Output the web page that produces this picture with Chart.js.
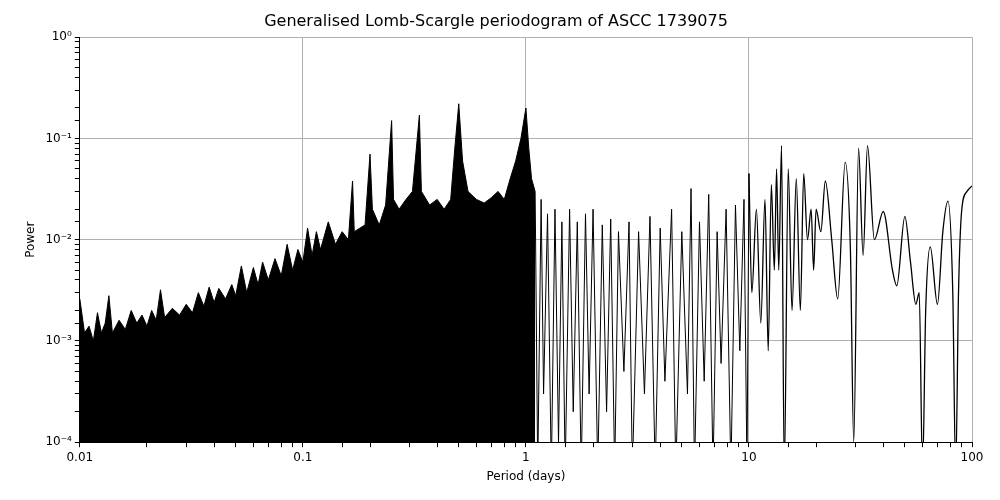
<!DOCTYPE html>
<html>
<head>
<meta charset="utf-8">
<script src="https://cdn.jsdelivr.net/npm/chart.js@4/dist/chart.umd.min.js"></script>
<style>
  body { margin: 0; background: #fff; }
  #wrap { width: 1000px; height: 500px; }
</style>
</head>
<body>
<div id="wrap"><canvas id="c"></canvas></div>
<script>
// dense short-period part (upper envelope, filled)
const densePeriod = [0.01,0.0105,0.011,0.0115,0.012,0.0125,0.013,0.0135,0.014,0.015,0.016,0.017,0.018,0.019,0.02,0.021,0.022,0.023,0.024,0.026,0.028,0.03,0.032,0.034,0.036,0.038,0.04,0.042,0.045,0.048,0.05,0.053,0.056,0.06,0.063,0.066,0.07,0.075,0.08,0.085,0.09,0.095,0.1,0.105,0.11,0.115,0.12,0.13,0.14,0.15,0.16,0.167,0.17,0.18,0.19,0.2,0.205,0.22,0.235,0.25,0.255,0.27,0.29,0.31,0.333,0.34,0.37,0.4,0.43,0.46,0.48,0.5,0.52,0.55,0.6,0.65,0.7,0.75,0.8,0.85,0.9,0.95,1.0,1.03,1.06,1.1];
const densePower = [2.6e-3,1.2e-3,1.4e-3,1e-3,1.9e-3,1.2e-3,1.5e-3,2.8e-3,1.2e-3,1.6e-3,1.3e-3,2e-3,1.5e-3,1.8e-3,1.4e-3,2e-3,1.6e-3,3.2e-3,1.7e-3,2.1e-3,1.8e-3,2.3e-3,1.9e-3,3e-3,2.2e-3,3.4e-3,2.4e-3,3.3e-3,2.6e-3,3.6e-3,2.8e-3,5.5e-3,3e-3,5.3e-3,3.6e-3,6e-3,4e-3,6.5e-3,4.4e-3,9e-3,5e-3,8e-3,6e-3,1.3e-2,7e-3,1.2e-2,8e-3,1.5e-2,9e-3,1.2e-2,1e-2,3.8e-2,1.2e-2,1.3e-2,1.4e-2,7e-2,2e-2,1.4e-2,2.2e-2,1.5e-1,2.5e-2,2e-2,2.5e-2,3e-2,1.7e-1,3e-2,2.2e-2,2.5e-2,2e-2,2.5e-2,8e-2,2.2e-1,6e-2,3e-2,2.5e-2,2.3e-2,2.6e-2,3e-2,2.5e-2,4e-2,6e-2,1e-1,2e-1,8e-2,4e-2,3e-2];

// intermediate part, oscillating down to the floor
const midPeriod = [1.1,1.13,1.17,1.2,1.25,1.3,1.35,1.4,1.45,1.5,1.57,1.63,1.7,1.77,1.85,1.92,2.0,2.1,2.2,2.3,2.4,2.5,2.6,2.75,2.9,3.0,3.2,3.4,3.6,3.8,4.0,4.2,4.5,4.7,5.0,5.3,5.5,5.7,6.0,6.3,6.6,6.9,7.2,7.5,7.9,8.3,8.7,9.1,9.5,9.8,10];
const midPower = [3e-2,5e-5,2.5e-2,3e-4,1.8e-2,5e-5,2e-2,1e-4,1.5e-2,5e-5,2e-2,2e-4,1.5e-2,5e-5,1.8e-2,3e-4,2e-2,5e-5,1.4e-2,2e-4,1.6e-2,5e-5,1.2e-2,5e-4,1.5e-2,5e-5,1.2e-2,3e-4,1.7e-2,5e-5,1.3e-2,4e-4,2e-2,5e-5,1.2e-2,3e-4,3.2e-2,5e-5,1.5e-2,4e-4,2.8e-2,5e-5,1.2e-2,6e-4,2e-2,5e-5,2.2e-2,8e-4,2.5e-2,5e-5,4.5e-2];

// long-period part
const longPeriod = [10,10.3,10.8,11.3,11.8,12.2,12.6,13,13.3,13.6,14,14.4,15,15.6,16.3,17,17.6,18.3,19,19.5,20,21,22,23.5,25,27,28.5,29.5,31,32.5,34,36.5,40,44,46,50,53,56,58,60,62,65,70,74,78,82,84.5,87,90,95,100];
const longPower = [4.5e-2,3e-3,2e-2,1.5e-3,2.5e-2,8e-4,3.5e-2,5e-3,5e-2,5e-3,8.5e-2,5e-5,5e-2,2e-3,4e-2,2e-3,4.5e-2,1e-2,2e-2,5e-3,2e-2,1.2e-2,3.8e-2,1e-2,2.6e-3,5.8e-2,8e-3,1e-4,8e-2,7e-3,8.5e-2,1e-2,1.9e-2,5e-3,3.5e-3,1.7e-2,6e-3,2.3e-3,3e-3,5e-5,2e-3,8.5e-3,2.3e-3,1.2e-2,2.4e-2,3e-3,5e-5,3e-3,2e-2,3e-2,3.4e-2];

const toXY = (xs, ys) => xs.map((x, i) => ({ x: x, y: ys[i] }));
const sup = { "-": "⁻", "0": "⁰", "1": "¹", "2": "²", "3": "³", "4": "⁴" };
const isDecade = v => Math.abs(Math.log10(v) - Math.round(Math.log10(v))) < 1e-6;
const font = { family: "DejaVu Sans", size: 12 };

new Chart(document.getElementById("c"), {
  type: "line",
  data: {
    datasets: [
      { data: toXY(densePeriod, densePower), borderColor: "#000", backgroundColor: "#000", borderWidth: 1, fill: "start", pointRadius: 0, tension: 0 },
      { data: toXY(midPeriod, midPower), borderColor: "#000", borderWidth: 1, fill: false, pointRadius: 0, tension: 0 },
      { data: toXY(longPeriod, longPower), borderColor: "#000", borderWidth: 1.3, fill: false, pointRadius: 0, cubicInterpolationMode: "monotone" }
    ]
  },
  options: {
    responsive: true,
    maintainAspectRatio: false,
    animation: false,
    layout: { padding: { left: 20, right: 28, top: 10, bottom: 16 } },
    plugins: {
      legend: { display: false },
      tooltip: { enabled: false },
      title: { display: true, text: "Generalised Lomb-Scargle periodogram of ASCC 1739075", color: "#000", font: { family: "DejaVu Sans", size: 16, weight: "normal" }, padding: { top: 2, bottom: 6 } }
    },
    scales: {
      x: {
        type: "logarithmic", min: 0.01, max: 100,
        border: { color: "#000" },
        grid: { color: ctx => isDecade(ctx.tick.value) ? "#b0b0b0" : "rgba(0,0,0,0)", tickColor: "#000", tickLength: 5 },
        ticks: { color: "#000", font: font, autoSkip: false, maxRotation: 0,
          callback: v => isDecade(v) ? String(v) : "" },
        title: { display: true, text: "Period (days)", color: "#000", font: font, padding: { top: 2, bottom: 0 } }
      },
      y: {
        type: "logarithmic", min: 1e-4, max: 1,
        border: { color: "#000" },
        grid: { color: ctx => isDecade(ctx.tick.value) ? "#b0b0b0" : "rgba(0,0,0,0)", tickColor: "#000", tickLength: 5 },
        ticks: { color: "#000", font: font, autoSkip: false,
          callback: v => isDecade(v) ? "10" + String(Math.round(Math.log10(v))).split("").map(c => sup[c]).join("") : "" },
        title: { display: true, text: "Power", color: "#000", font: font }
      }
    }
  }
});
</script>
</body>
</html>
